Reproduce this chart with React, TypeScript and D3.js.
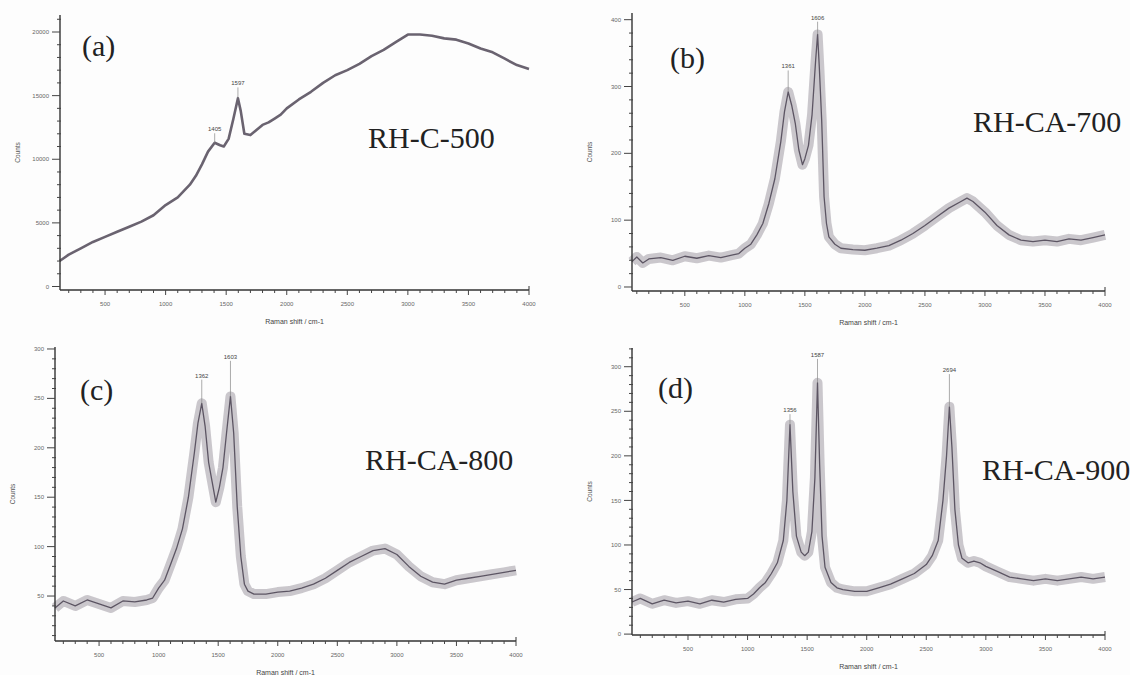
import React from 'react';
import * as d3 from 'd3';

// shared axis ticks
const xMajorTicks = [500, 1000, 1500, 2000, 2500, 3000, 3500, 4000];

// (a) RH-C-500
const shiftA = [125, 200, 300, 400, 500, 600, 700, 800, 900, 1000, 1100, 1200, 1250, 1300, 1350, 1405, 1450, 1480, 1520, 1560, 1597, 1620, 1650, 1700, 1750, 1800, 1850, 1900, 1950, 2000, 2100, 2200, 2300, 2400, 2500, 2600, 2700, 2800, 2900, 3000, 3100, 3200, 3300, 3400, 3500, 3600, 3700, 3800, 3900, 4000];
const countsA = [2000, 2500, 3000, 3500, 3900, 4300, 4700, 5100, 5600, 6400, 7000, 8000, 8700, 9600, 10600, 11300, 11100, 11000, 11600, 13200, 14800, 13800, 12000, 11900, 12300, 12700, 12900, 13200, 13500, 14000, 14700, 15300, 16000, 16600, 17000, 17500, 18100, 18600, 19200, 19800, 19800, 19700, 19500, 19400, 19100, 18700, 18400, 17900, 17400, 17100];
const peaksA = [1405, 1597];
const peakTextA = [12200, 15800];
const yTicksA = [0, 5000, 10000, 15000, 20000];

// (b) RH-CA-700
const shiftB = [60, 100, 150, 200, 300, 400, 500, 600, 700, 800, 900, 950, 1000, 1050, 1100, 1150, 1200, 1250, 1300, 1330, 1361, 1390, 1420, 1450, 1480, 1500, 1530, 1560, 1590, 1606, 1620, 1640, 1660, 1680, 1700, 1750, 1800, 1900, 2000, 2100, 2200, 2300, 2400, 2500, 2600, 2700, 2800, 2850, 2900, 3000, 3100, 3200, 3300, 3400, 3500, 3600, 3700, 3800, 3900, 4000];
const countsB = [38, 45, 36, 42, 44, 40, 46, 43, 47, 44, 48, 50, 58, 64, 78, 95, 125, 162, 218, 262, 292, 272, 245, 205, 183, 192, 212, 258, 340, 378, 330, 250, 135, 95, 75, 64, 58, 56, 55, 58, 62, 70, 80, 92, 105, 118, 128, 133, 128, 112, 92, 78, 70, 68, 70, 68, 72, 70, 74, 78];
const peaksB = [1361, 1606];
const peakTextB = [327, 400];
const yTicksB = [0, 100, 200, 300, 400];

// (c) RH-CA-800
const shiftC = [130, 200, 300, 400, 500, 600, 700, 800, 900, 950, 1000, 1050, 1100, 1150, 1200, 1250, 1300, 1330, 1362, 1390, 1420, 1450, 1480, 1510, 1540, 1570, 1603, 1630, 1660, 1690, 1720, 1750, 1800, 1900, 2000, 2100, 2200, 2300, 2400, 2500, 2600, 2700, 2800, 2900, 3000, 3100, 3200, 3300, 3400, 3500, 3600, 3700, 3800, 3900, 4000];
const countsC = [38, 45, 40, 46, 42, 38, 45, 44, 46, 48, 58, 66, 82, 98, 118, 150, 195, 225, 245, 222, 185, 165, 145, 160, 180, 215, 252, 215, 140, 90, 62, 55, 52, 52, 54, 55, 58, 62, 68, 76, 84, 90, 96, 98, 92, 80, 70, 64, 62, 66, 68, 70, 72, 74, 76];
const peaksC = [1362, 1603];
const peakTextC = [271, 290];
const yTicksC = [50, 100, 150, 200, 250, 300];

// (d) RH-CA-900
const shiftD = [30, 100, 200, 300, 400, 500, 600, 700, 800, 900, 1000, 1050, 1100, 1150, 1200, 1250, 1300, 1330, 1356, 1380, 1410, 1450, 1480, 1510, 1540, 1565, 1587, 1605, 1625, 1650, 1700, 1750, 1800, 1900, 2000, 2100, 2200, 2300, 2400, 2500, 2550, 2600, 2640, 2670, 2694, 2715, 2740, 2770, 2800, 2850, 2900, 2950, 3000, 3100, 3200, 3300, 3400, 3500, 3600, 3700, 3800, 3900, 4000];
const countsD = [36, 40, 34, 38, 35, 37, 34, 38, 36, 39, 40, 45, 52, 58, 68, 80, 105, 150, 235, 160, 110, 92, 88, 92, 115, 175, 282, 190, 110, 75, 58, 52, 50, 48, 48, 52, 56, 62, 68, 78, 88, 105, 150, 200, 255, 210, 140, 100, 85, 80, 82, 80, 76, 70, 64, 62, 60, 62, 60, 62, 64, 62, 64];
const peaksD = [1356, 1587, 2694];
const peakTextD = [249, 311, 294];
const yTicksD = [0, 50, 100, 150, 200, 250, 300];

const panels = [
  { id: '(a)', name: 'RH-C-500', shift: shiftA, counts: countsA, peaks: peaksA, peakText: peakTextA, yTicks: yTicksA,
    x0: 60, x1: 529, yBot: 290, yTop: 15, xDom: [128, 4000], yDom: [-275, 21336], minorStep: 1000,
    tag: [82, 56], nameAt: [368, 148], noisy: false },
  { id: '(b)', name: 'RH-CA-700', shift: shiftB, counts: countsB, peaks: peaksB, peakText: peakTextB, yTicks: yTicksB,
    x0: 632, x1: 1105, yBot: 291, yTop: 13, xDom: [60, 4000], yDom: [-6, 410], minorStep: 20,
    tag: [670, 68], nameAt: [973, 132], noisy: true },
  { id: '(c)', name: 'RH-CA-800', shift: shiftC, counts: countsC, peaks: peaksC, peakText: peakTextC, yTicks: yTicksC,
    x0: 55, x1: 516, yBot: 641, yTop: 347, xDom: [130, 4000], yDom: [4.5, 302], minorStep: 10,
    tag: [80, 400], nameAt: [365, 470], noisy: true },
  { id: '(d)', name: 'RH-CA-900', shift: shiftD, counts: countsD, peaks: peaksD, peakText: peakTextD, yTicks: yTicksD,
    x0: 632, x1: 1105, yBot: 635, yTop: 348, xDom: [30, 4000], yDom: [-1, 321], minorStep: 10,
    tag: [658, 398], nameAt: [982, 480], noisy: true },
];

const tickFont = '"Liberation Sans", Arial, sans-serif';
const serif = '"Liberation Serif", "Times New Roman", serif';

function Panel({ p }: { p: any }) {
  const x = d3.scaleLinear().domain(p.xDom).range([p.x0, p.x1]);
  const y = d3.scaleLinear().domain(p.yDom).range([p.yBot, p.yTop]);
  const line = d3.line<number>()
    .x((d, i) => x(p.shift[i]))
    .y(d => y(d));
  const path = line(p.counts) || '';

  const minorX = d3.range(100, 4001, 100).filter(v => v > p.xDom[0] && v % 500 !== 0);
  const minorY = d3.range(0, p.yDom[1], p.minorStep).filter(v => v >= p.yDom[0] && !p.yTicks.includes(v));

  return (
    <g>
      {/* spectrum: wide pale band stands in for the detector noise */}
      {p.noisy && (
        <path d={path} fill="none" stroke="#837c88" strokeOpacity={0.42} strokeWidth={10} strokeLinejoin="round" />
      )}
      <path d={path} fill="none" stroke={p.noisy ? '#5c5563' : '#6a6370'} strokeWidth={p.noisy ? 1.3 : 2.6} strokeLinejoin="round" />

      {/* peak markers */}
      {p.peaks.map((pk: number, i: number) => {
        const idx = p.shift.indexOf(pk);
        const top = y(p.peakText[i]);
        return (
          <g key={pk}>
            <line x1={x(pk)} x2={x(pk)} y1={top + 2} y2={y(p.counts[idx])} stroke="#888" strokeWidth={0.7} />
            <text x={x(pk)} y={top} textAnchor="middle" fontSize={6} fontFamily={tickFont} fill="#444">{pk}</text>
          </g>
        );
      })}

      {/* axes */}
      <line x1={p.x0} x2={p.x0} y1={p.yTop} y2={p.yBot} stroke="#333" strokeWidth={1.4} />
      <line x1={p.x0} x2={p.x1} y1={p.yBot} y2={p.yBot} stroke="#333" strokeWidth={1.4} />
      <line x1={p.x1} x2={p.x1} y1={p.yBot} y2={p.yBot - 4} stroke="#333" strokeWidth={1} />

      {minorY.map((v: number) => (
        <line key={'my' + v} x1={p.x0 - 3} x2={p.x0 + 1} y1={y(v)} y2={y(v)} stroke="#444" strokeWidth={1} />
      ))}
      {p.yTicks.map((v: number) => (
        <g key={'y' + v}>
          <line x1={p.x0 - 8} x2={p.x0} y1={y(v)} y2={y(v)} stroke="#444" strokeWidth={1} />
          <text x={p.x0 - 11} y={y(v)} dy="0.35em" textAnchor="end" fontSize={6} fontFamily={tickFont} fill="#666">{v}</text>
        </g>
      ))}

      {minorX.map((v: number) => (
        <line key={'mx' + v} x1={x(v)} x2={x(v)} y1={p.yBot} y2={p.yBot + 3} stroke="#444" strokeWidth={1} />
      ))}
      {xMajorTicks.map(v => (
        <g key={'x' + v}>
          <line x1={x(v)} x2={x(v)} y1={p.yBot} y2={p.yBot + 5} stroke="#444" strokeWidth={1} />
          <text x={x(v)} y={p.yBot + 16} textAnchor="middle" fontSize={6} fontFamily={tickFont} fill="#666">{v}</text>
        </g>
      ))}

      <text
        transform={`translate(${p.x0 - 40},${(p.yTop + p.yBot) / 2}) rotate(-90)`}
        textAnchor="middle" fontSize={6.5} fontFamily={tickFont} fill="#555">Counts</text>
      <text x={(p.x0 + p.x1) / 2} y={p.yBot + 34} textAnchor="middle" fontSize={7} fontFamily={tickFont} fill="#444">
        Raman shift / cm-1
      </text>

      {/* panel tag and sample name */}
      <text x={p.tag[0]} y={p.tag[1]} fontSize={30} fontFamily={serif} fill="#222">{p.id}</text>
      <text x={p.nameAt[0]} y={p.nameAt[1]} fontSize={30} fontFamily={serif} fill="#222">{p.name}</text>
    </g>
  );
}

export default function App() {
  return (
    <svg
      width={1130}
      height={675}
      style={{ position: 'absolute', left: 0, top: 0, display: 'block', background: '#fdfdfd' }}
    >
      {panels.map(p => <Panel key={p.id} p={p} />)}
    </svg>
  );
}
